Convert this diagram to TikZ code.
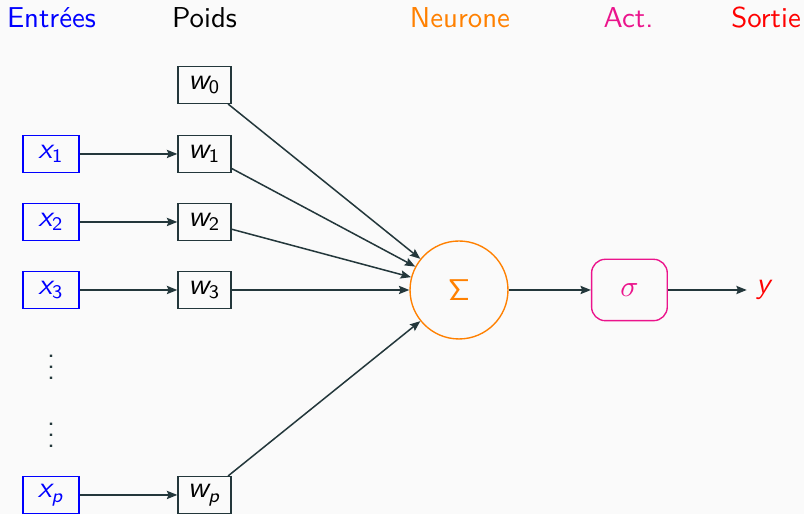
\documentclass[tikz,border=0pt]{standalone}
\usetikzlibrary{arrows.meta}
\renewcommand{\familydefault}{\sfdefault}
\DeclareMathAlphabet{\mathsfit}{OT1}{cmss}{m}{sl}
\newcommand{\var}[2]{$\mathsfit{#1}_{\mathsf{#2}}$}
\definecolor{bggray}{HTML}{FAFAFA}
\definecolor{darkteal}{HTML}{23373B}
\definecolor{inblue}{RGB}{0,0,255}
\definecolor{neurorange}{RGB}{255,128,0}
\definecolor{actpink}{RGB}{235,20,140}
\definecolor{outred}{RGB}{255,0,0}

\begin{document}
\begin{tikzpicture}[font=\fontsize{10.5}{12.5}\selectfont,
    inbox/.style={draw=inblue,text=inblue,line width=0.5pt,minimum width=0.72cm,minimum height=0.47cm,inner sep=0pt},
    wbox/.style={draw=darkteal,text=black,line width=0.5pt,minimum width=0.68cm,minimum height=0.47cm,inner sep=0pt},
    link/.style={draw=darkteal,line width=0.55pt,-{Stealth[length=3.8pt,width=3pt,inset=0.6pt]}}]
    \fill[bggray](0,0)rectangle(10.308,-6.590);
    \useasboundingbox(0,0)rectangle(10.308,-6.590);
    % headers
    \node[text=inblue](hIn)at(0.660,-0.231){Entrées};
    \node[text=black](hW)at(2.622,-0.231){Poids};
    \node[text=neurorange](hN)at(5.897,-0.231){Neurone};
    \node[text=actpink](hA)at(8.058,-0.231){Act.};
    \node[text=outred](hOut)at(9.821,-0.231){Sortie};
    % inputs and weights
    \node[wbox](w0)at(2.622,-1.090){\var{w}{0}};
    \foreach \i/\s/\y in {1/1/-1.974,2/2/-2.846,3/3/-3.718,p/\mathsfit{p}/-6.346}{
        \node[inbox](x\i)at(0.654,\y){\var{x}{\s}};
        \node[wbox](w\i)at(2.622,\y){\var{w}{\s}};
        \draw[link](x\i)--(w\i);
    }
    \node[text=darkteal](d1)at(0.654,-4.600){$\vdots$};
    \node[text=darkteal](d2)at(0.654,-5.480){$\vdots$};
    % neuron
    \node[circle,draw=neurorange,text=neurorange,line width=0.5pt,minimum size=1.256cm,inner sep=0pt](sum)at(5.885,-3.718){$\mathsf{\Sigma}$};
    \foreach \i in {0,1,2,3,p}
        \draw[link](w\i)--(sum);
    \node[draw=actpink,text=actpink,rounded corners=5pt,line width=0.5pt,minimum width=0.97cm,minimum height=0.787cm](act)at(8.070,-3.718){$\sigma$};
    \node[text=outred](y)at(9.808,-3.718){$\mathsfit{y}$};
    \draw[link](sum)--(act);
    \draw[link](act)--(y);
\end{tikzpicture}
\end{document}
